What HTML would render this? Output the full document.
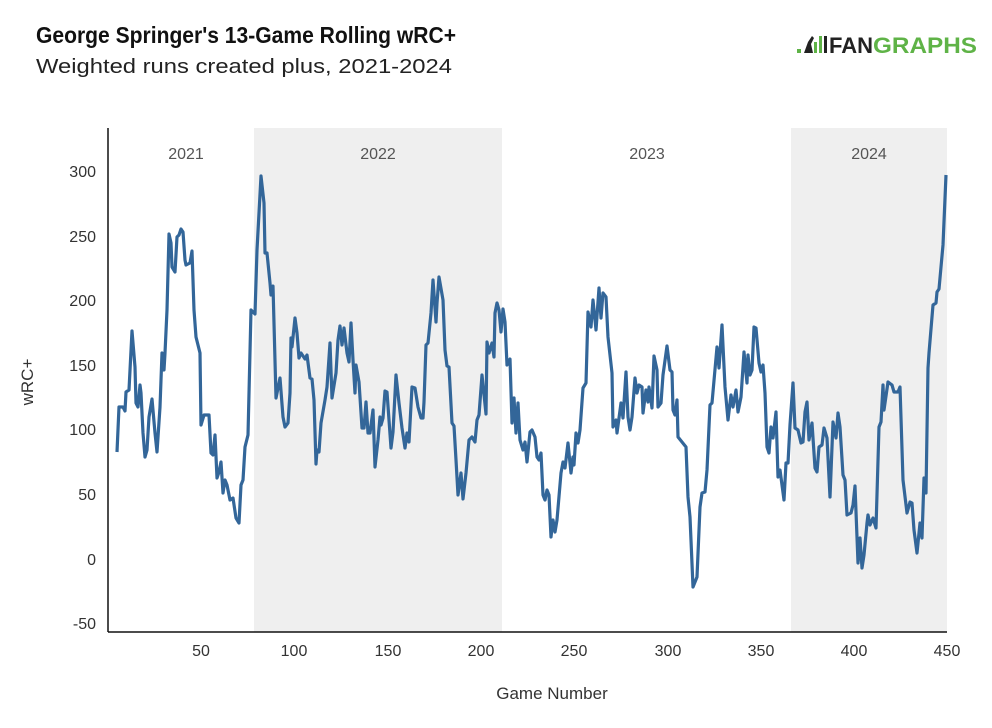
<!DOCTYPE html>
<html><head><meta charset="utf-8"><style>
body{margin:0;background:#fff;width:992px;height:728px;overflow:hidden}
svg{display:block;font-family:"Liberation Sans",sans-serif}
</style></head><body>
<svg width="992" height="728" viewBox="0 0 992 728">
<rect width="992" height="728" fill="#fff"/>
<text x="36" y="43" font-size="23" font-weight="bold" fill="#111" textLength="420" lengthAdjust="spacingAndGlyphs">George Springer's 13-Game Rolling wRC+</text>
<text x="36" y="73" font-size="20" fill="#222" textLength="416" lengthAdjust="spacingAndGlyphs">Weighted runs created plus, 2021-2024</text>
<g>
<rect x="797" y="49" width="4" height="4" fill="#5fb347"/>
<path d="M804 53 L808 42 L812 36 L814 38 L811 44 L813 53 Z" fill="#222"/>
<rect x="814" y="42" width="3" height="11" fill="#5fb347"/>
<rect x="819" y="36" width="3" height="17" fill="#5fb347"/>
<rect x="824" y="36" width="3" height="17" fill="#222"/>
<text x="829" y="53" font-size="22" font-weight="bold" fill="#222" textLength="44" lengthAdjust="spacingAndGlyphs">FAN</text>
<text x="873" y="53" font-size="22" font-weight="bold" fill="#5fb347" textLength="104" lengthAdjust="spacingAndGlyphs">GRAPHS</text>
</g>
<rect x="254" y="128" width="248" height="504" fill="#efefef"/>
<rect x="791" y="128" width="156" height="504" fill="#efefef"/>
<g font-size="16" fill="#555" text-anchor="middle">
<text x="186" y="159">2021</text><text x="378" y="159">2022</text>
<text x="647" y="159">2023</text><text x="869" y="159">2024</text>
</g>
<line x1="108" y1="128" x2="108" y2="632" stroke="#111" stroke-width="1.5"/>
<line x1="108" y1="632" x2="947" y2="632" stroke="#111" stroke-width="1.5"/>
<g font-size="16" fill="#333" text-anchor="end">
<text x="96" y="177">300</text><text x="96" y="242">250</text><text x="96" y="306">200</text>
<text x="96" y="371">150</text><text x="96" y="435">100</text><text x="96" y="500">50</text>
<text x="96" y="565">0</text><text x="96" y="629">-50</text>
</g>
<g font-size="16" fill="#333" text-anchor="middle">
<text x="201" y="656">50</text><text x="294" y="656">100</text><text x="388" y="656">150</text>
<text x="481" y="656">200</text><text x="574" y="656">250</text><text x="668" y="656">300</text>
<text x="761" y="656">350</text><text x="854" y="656">400</text><text x="947" y="656">450</text>
</g>
<text x="552" y="699" font-size="17" fill="#333" text-anchor="middle">Game Number</text>
<text transform="translate(33,382) rotate(-90)" font-size="17" fill="#333" text-anchor="middle">wRC+</text>
<polyline fill="none" stroke="#336699" stroke-width="3.2" stroke-linejoin="round" points="
117,452 119,407 123,407 125,411 126,392 129,390 132,331 135,367 136,403 138,407 140,385 141,393 143,433 145,457 147,450 149,417 152,399 155,433 157,452 160,407 162,353 164,370 165,353 167,310 169,234 171,243 172,267 175,272 177,237 179,235 181,229 183,232 185,260 186,265 190,263 192,251 194,310 196,337 200,353 201,425 204,415 206,415 209,415 211,453 213,455 215,435 217,478 219,472 221,462 223,493 225,480 227,485 230,500 233,498 236,518 239,523 241,485 243,480 245,447 248,435 251,310 255,314 257,250 261,176 264,203 265,253 267,253 270,283 271,295 273,286 276,398 280,378 283,417 285,427 288,423 290,393 291,338 292,347 295,318 297,333 299,358 301,353 305,359 307,355 310,378 312,379 314,400 316,464 317,450 319,452 321,423 325,400 327,387 330,343 332,398 336,373 338,340 340,326 342,345 344,328 347,353 349,362 351,323 353,360 355,393 356,365 359,382 362,428 364,428 366,402 368,433 370,433 373,410 375,467 378,440 380,417 381,425 383,418 385,391 387,392 391,448 393,432 396,375 399,403 402,428 405,448 407,433 409,442 412,387 415,388 418,407 421,418 423,418 424,402 426,345 428,343 431,313 433,280 436,322 437,303 439,277 443,300 445,350 447,366 449,367 452,423 454,426 456,460 458,495 461,473 463,499 466,473 469,440 472,437 475,442 477,420 479,415 482,375 486,414 487,342 489,353 492,343 494,357 495,313 497,303 499,310 501,332 503,309 505,322 507,365 510,359 512,423 514,398 516,433 518,403 520,440 523,450 525,442 527,462 530,432 532,430 535,437 537,457 539,460 541,453 543,495 545,500 547,490 549,495 551,537 553,520 555,532 557,520 561,473 563,462 565,468 568,443 571,473 573,457 574,465 576,433 578,443 580,430 583,388 586,383 588,312 591,327 593,300 596,330 599,288 601,318 603,293 606,297 608,337 612,373 613,427 616,420 617,433 621,403 623,418 626,372 628,417 630,430 632,417 635,378 637,393 639,385 642,387 643,413 646,390 648,402 649,387 652,408 654,356 657,370 658,407 661,403 663,375 667,346 670,370 672,372 673,410 675,415 677,400 678,437 686,447 688,497 690,517 693,587 697,577 700,507 702,493 705,492 707,470 710,405 712,403 717,347 719,368 722,325 725,387 728,420 731,395 733,407 736,390 738,412 741,397 744,352 747,383 748,355 750,375 752,370 754,327 756,328 759,363 761,372 763,365 765,393 767,447 769,453 771,427 773,438 776,412 778,477 780,470 784,500 786,463 788,463 790,425 793,383 795,428 798,430 801,443 803,442 805,412 807,402 809,440 812,423 815,468 817,472 819,447 822,445 824,428 827,438 830,497 833,422 836,438 838,413 840,427 843,475 845,480 847,515 851,513 853,505 855,486 858,563 860,538 862,568 864,555 867,523 868,515 870,525 873,518 876,528 879,427 881,422 883,385 884,410 888,382 892,385 894,392 898,392 900,387 903,480 907,513 910,502 912,503 914,530 917,553 920,523 922,538 924,478 926,493 928,368 929,353 933,305 936,303 937,292 939,289 941,267 943,245 946,175"/>
</svg>
</body></html>
